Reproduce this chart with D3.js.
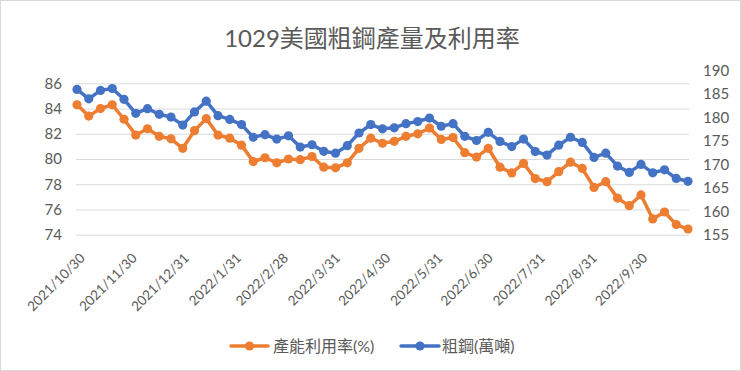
<!DOCTYPE html>
<html>
<head>
<meta charset="utf-8">
<script src="https://cdn.jsdelivr.net/npm/d3@7"></script>
<style>
  html, body { margin: 0; padding: 0; background: #fff; }
  svg { display: block; }
  text { font-family: "Lato", "Noto Sans CJK TC", sans-serif; fill: #595959; }
</style>
</head>
<body>
<svg id="chart" width="741" height="371"></svg>
<script>
// ---- data ----
const title = "1029美國粗鋼產量及利用率";
const startDate = "2021-10-30";   // weekly observations (Saturdays)
const utilization = [84.3, 83.4, 84.0, 84.3, 83.15, 81.9, 82.4, 81.8, 81.6, 80.85,
  82.25, 83.2, 81.9, 81.65, 81.1, 79.8, 80.1, 79.7, 80.0, 79.95,
  80.2, 79.35, 79.3, 79.7, 80.85, 81.65, 81.25, 81.4, 81.8, 82.0,
  82.45, 81.55, 81.7, 80.5, 80.15, 80.85, 79.35, 78.9, 79.65, 78.45,
  78.2, 79.0, 79.75, 79.25, 77.75, 78.2, 76.9, 76.3, 77.15, 75.25,
  75.8, 74.8, 74.45];
const crudeSteel = [186.0, 184.0, 185.8, 186.2, 183.9, 180.9, 181.9, 180.7, 180.1, 178.4,
  181.2, 183.5, 180.4, 179.6, 178.5, 175.8, 176.35, 175.4, 176.1, 173.7,
  174.2, 172.8, 172.4, 174.0, 176.7, 178.5, 177.6, 177.8, 178.7, 179.15,
  179.9, 178.15, 178.7, 176.0, 175.1, 176.85, 174.9, 173.8, 175.4, 172.75,
  172.0, 174.1, 175.8, 174.7, 171.5, 172.4, 169.65, 168.3, 170.0, 168.2,
  168.85, 167.0, 166.4];
const xTickLabels = ["2021/10/30", "2021/11/30", "2021/12/31", "2022/1/31", "2022/2/28", "2022/3/31",
  "2022/4/30", "2022/5/31", "2022/6/30", "2022/7/31", "2022/8/31", "2022/9/30"];
const leftTicks = [74, 76, 78, 80, 82, 84, 86];
const rightTicks = [155, 160, 165, 170, 175, 180, 185, 190];
const seriesNames = ["產能利用率(%)", "粗鋼(萬噸)"];
const colors = ["#ED7D31", "#4472C4"];

// ---- setup ----
const parse = d3.timeParse("%Y/%m/%d");
const start = d3.timeParse("%Y-%m-%d")(startDate);
const dates = utilization.map((_, i) => d3.timeDay.offset(start, 7 * i));

const svg = d3.select("#chart");
const W = 741, H = 371;
const plot = { left: 77, right: 688, top: 70.7, bottom: 234.7 };

svg.append("rect").attr("x", 0.5).attr("y", 0.5).attr("width", W - 1).attr("height", H - 1)
  .attr("fill", "#fff").attr("stroke", "#D9D9D9").attr("stroke-width", 1);

const x = d3.scaleTime().domain([dates[0], dates[dates.length - 1]]).range([plot.left, plot.right]);
const yL = d3.scaleLinear().domain([74, 87]).range([plot.bottom, plot.top]);
const yR = d3.scaleLinear().domain([155, 190]).range([plot.bottom, plot.top]);

// gridlines
const grid = svg.append("g").attr("transform", `translate(${plot.left - 1},0)`)
  .call(d3.axisLeft(yL).tickValues(leftTicks).tickSize(-(plot.right - plot.left + 2)).tickFormat(""));
grid.select(".domain").remove();
grid.selectAll("line").attr("stroke", "#D9D9D9").attr("stroke-width", 1);

// left axis labels
const axL = svg.append("g").attr("transform", `translate(${plot.left - 15},0)`)
  .call(d3.axisLeft(yL).tickValues(leftTicks).tickSize(0).tickPadding(0));
axL.select(".domain").remove();
axL.selectAll("text").attr("font-size", 15).attr("fill", "#595959")
  .style("font-family", "Lato, sans-serif");

// right axis labels
const axR = svg.append("g").attr("transform", `translate(${plot.right + 15},0)`)
  .call(d3.axisRight(yR).tickValues(rightTicks).tickSize(0).tickPadding(0));
axR.select(".domain").remove();
axR.selectAll("text").attr("font-size", 15).attr("fill", "#595959")
  .style("font-family", "Lato, sans-serif");

// x axis labels (rotated)
const tickDates = xTickLabels.map(s => parse(s));
const axX = svg.append("g").attr("transform", `translate(0,${plot.bottom + 21})`)
  .call(d3.axisBottom(x).tickValues(tickDates).tickSize(0).tickPadding(0)
    .tickFormat((d, i) => xTickLabels[i]));
axX.select(".domain").remove();
axX.selectAll("text").attr("font-size", 13.5).attr("fill", "#595959")
  .style("font-family", "Lato, sans-serif")
  .attr("text-anchor", "end").attr("dy", "0.35em")
  .attr("transform", "translate(5,0) rotate(-45)");

// series
function drawSeries(values, yScale, color) {
  const pts = values.map((v, i) => [x(dates[i]), yScale(v)]);
  svg.append("path").attr("d", d3.line()(pts)).attr("fill", "none")
    .attr("stroke", color).attr("stroke-width", 3.5).attr("stroke-linejoin", "round").attr("stroke-linecap", "round");
  svg.append("g").selectAll("circle").data(pts).join("circle")
    .attr("cx", d => d[0]).attr("cy", d => d[1]).attr("r", 4.6).attr("fill", color);
}
drawSeries(crudeSteel, yR, colors[1]);
drawSeries(utilization, yL, colors[0]);

// title
svg.append("text").attr("x", 372).attr("y", 47).attr("text-anchor", "middle")
  .attr("font-size", 24).attr("fill", "#595959").text(title);

// legend
const legend = [
  { name: seriesNames[0], color: colors[0], x0: 231, x1: 268, tx: 273 },
  { name: seriesNames[1], color: colors[1], x0: 401, x1: 439, tx: 442 }
];
const ly = 346;
legend.forEach(l => {
  svg.append("line").attr("x1", l.x0).attr("x2", l.x1).attr("y1", ly).attr("y2", ly)
    .attr("stroke", l.color).attr("stroke-width", 3.5).attr("stroke-linecap", "round");
  svg.append("circle").attr("cx", (l.x0 + l.x1) / 2).attr("cy", ly).attr("r", 4.6).attr("fill", l.color);
  svg.append("text").attr("x", l.tx).attr("y", ly).attr("dy", "0.35em").attr("font-size", 16)
    .attr("fill", "#595959").text(l.name);
});
</script>
</body>
</html>
